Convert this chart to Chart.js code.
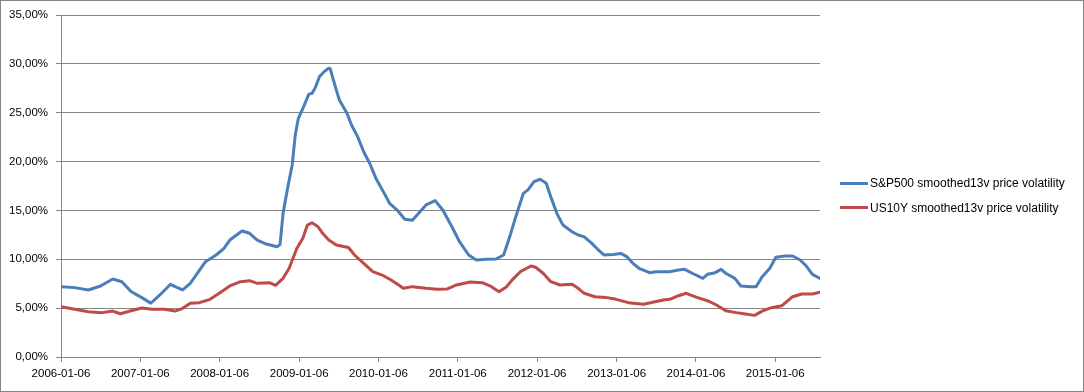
<!DOCTYPE html>
<html>
<head>
<meta charset="utf-8">
<script src="https://cdn.jsdelivr.net/npm/chart.js@4.4.0/dist/chart.umd.min.js"></script>
<style>
  html, body { margin: 0; padding: 0; background: #fff; }
  #wrap { position: relative; width: 1084px; height: 392px; }
  #legend { position: absolute; left: 840px; top: 171px; font: 12px "Liberation Sans", Arial, sans-serif; color: #000; }
  .item { display: flex; align-items: center; height: 24.5px; }
  .swatch { width: 28px; height: 3px; margin-right: 2px; }
</style>
</head>
<body>
<div id="wrap">
  <canvas id="volChart" width="1084" height="392"></canvas>
  <div id="legend"></div>
</div>
<script>
// weekly observations, week 0 = 2006-01-06
const spxWeeks = [0, 9, 18, 26, 34, 40, 46, 54, 59, 65, 72, 75, 80, 85, 88, 95, 102, 107, 111, 119, 124, 129, 135, 142, 144, 146, 149, 152, 154, 156, 159, 163, 165, 167, 170, 173, 176, 177, 180, 183, 188, 191, 195, 199, 203, 207, 212, 216, 221, 226, 231, 236, 240, 246, 251, 257, 262, 268, 273, 280, 286, 291, 295, 299, 304, 307, 311, 315, 319, 322, 326, 330, 336, 340, 344, 349, 353, 357, 363, 368, 372, 376, 380, 387, 391, 400, 406, 410, 415, 422, 425, 430, 434, 437, 443, 447, 453, 457, 461, 466, 470, 476, 481, 486, 490, 494, 499];
const spxValues = [7.2, 7.1, 6.86, 7.27, 7.98, 7.7, 6.7, 6.0, 5.5, 6.35, 7.44, 7.2, 6.86, 7.54, 8.2, 9.75, 10.44, 11.1, 11.97, 12.9, 12.66, 11.97, 11.56, 11.29, 11.5, 14.7, 17.3, 19.65, 22.7, 24.4, 25.45, 26.9, 26.98, 27.5, 28.7, 29.2, 29.55, 29.5, 27.85, 26.3, 24.94, 23.74, 22.55, 21.0, 19.8, 18.3, 16.9, 15.73, 15.04, 14.09, 14.0, 14.87, 15.56, 16.0, 15.04, 13.33, 11.8, 10.44, 9.93, 10.0, 10.03, 10.44, 12.3, 14.36, 16.75, 17.1, 17.94, 18.19, 17.78, 16.4, 14.7, 13.5, 12.82, 12.49, 12.3, 11.63, 11.0, 10.44, 10.5, 10.6, 10.27, 9.59, 9.08, 8.63, 8.73, 8.73, 8.9, 8.97, 8.57, 8.05, 8.46, 8.63, 8.97, 8.57, 8.05, 7.27, 7.2, 7.2, 8.22, 9.08, 10.2, 10.34, 10.34, 9.93, 9.31, 8.46, 8.05];

const usWeeks = [0, 9, 18, 27, 34, 39, 46, 53, 60, 68, 75, 80, 85, 91, 98, 104, 111, 118, 124, 129, 137, 141, 146, 150, 155, 159, 162, 165, 169, 172, 176, 181, 189, 193, 199, 205, 212, 217, 222, 225, 231, 240, 247, 254, 260, 269, 277, 283, 288, 293, 297, 302, 309, 312, 317, 322, 328, 336, 340, 344, 351, 358, 365, 373, 383, 389, 396, 401, 406, 411, 418, 425, 431, 437, 444, 450, 456, 461, 467, 474, 481, 487, 494, 499];
const usValues = [5.15, 4.88, 4.64, 4.54, 4.7, 4.43, 4.74, 5.01, 4.88, 4.88, 4.7, 4.98, 5.5, 5.56, 5.9, 6.52, 7.27, 7.71, 7.81, 7.54, 7.6, 7.34, 8.05, 9.08, 11.1, 12.15, 13.5, 13.74, 13.33, 12.66, 11.97, 11.46, 11.2, 10.44, 9.59, 8.73, 8.32, 7.88, 7.37, 7.03, 7.2, 7.03, 6.93, 6.96, 7.37, 7.68, 7.6, 7.2, 6.68, 7.2, 7.95, 8.73, 9.31, 9.18, 8.57, 7.71, 7.37, 7.44, 7.03, 6.52, 6.17, 6.1, 5.9, 5.56, 5.39, 5.6, 5.83, 5.94, 6.27, 6.52, 6.1, 5.76, 5.32, 4.74, 4.54, 4.4, 4.26, 4.7, 5.05, 5.25, 6.17, 6.45, 6.45, 6.62];

const tickLabels = ["2006-01-06", "2007-01-06", "2008-01-06", "2009-01-06", "2010-01-06", "2011-01-06", "2012-01-06", "2013-01-06", "2014-01-06", "2015-01-06"];

const seriesNames = ["S&P500 smoothed13v price volatility", "US10Y smoothed13v price volatility"];
const seriesColors = ["#4a7ebb", "#be4b48"];

const start = Date.parse(tickLabels[0]);
const tickWeeks = tickLabels.map(d => (Date.parse(d) - start) / 864e5 / 7);

function toPoints(weeks, values) {
    return weeks.map((w, i) => ({ x: w, y: values[i] }));
}

const frame = {
    id: "frame",
    afterDraw(chart) {
        const c = chart.ctx;
        c.save();
        c.strokeStyle = "#868686";
        c.lineWidth = 1;
        c.strokeRect(0.5, 0.5, chart.width - 1, chart.height - 1);
        c.restore();
    }
};

const ctx = document.getElementById("volChart").getContext("2d");
const font = { family: "'Liberation Sans', Arial, sans-serif", size: 11.5 };

new Chart(ctx, {
    type: "line",
    data: {
        datasets: [
            { label: seriesNames[0], data: toPoints(spxWeeks, spxValues), borderColor: seriesColors[0], borderWidth: 3 },
            { label: seriesNames[1], data: toPoints(usWeeks, usValues), borderColor: seriesColors[1], borderWidth: 3 }
        ]
    },
    options: {
        responsive: false,
        animation: false,
        elements: { point: { radius: 0 }, line: { tension: 0, borderJoinStyle: "round", borderCapStyle: "round" } },
        layout: { padding: { left: 0, right: 264, top: 15, bottom: 0 } },
        plugins: { legend: { display: false }, tooltip: { enabled: false } },
        scales: {
            x: {
                type: "linear",
                min: 0,
                max: spxWeeks[spxWeeks.length - 1],
                afterBuildTicks: scale => { scale.ticks = tickWeeks.map(v => ({ value: v })); },
                afterFit: scale => { scale.height = 35; },
                ticks: {
                    autoSkip: false,
                    maxRotation: 0,
                    padding: 5,
                    color: "#000",
                    font: font,
                    callback: value => {
                        const i = tickWeeks.indexOf(value);
                        return i >= 0 ? tickLabels[i] : "";
                    }
                },
                grid: { drawOnChartArea: false, drawTicks: true, tickLength: 5, color: "#868686" },
                border: { color: "#868686" }
            },
            y: {
                min: 0,
                max: 35,
                afterFit: scale => { scale.width = 61; },
                ticks: {
                    stepSize: 5,
                    padding: 8,
                    color: "#000",
                    font: font,
                    callback: v => v.toFixed(2).replace(".", ",") + "%"
                },
                grid: { color: "#868686", tickLength: 5 },
                border: { color: "#868686" }
            }
        }
    },
    plugins: [frame]
});

const legend = document.getElementById("legend");
seriesNames.forEach((name, i) => {
    const row = document.createElement("div");
    row.className = "item";
    row.innerHTML = '<span class="swatch" style="background:' + seriesColors[i] + '"></span><span></span>';
    row.lastChild.textContent = name;
    legend.appendChild(row);
});
</script>
</body>
</html>
